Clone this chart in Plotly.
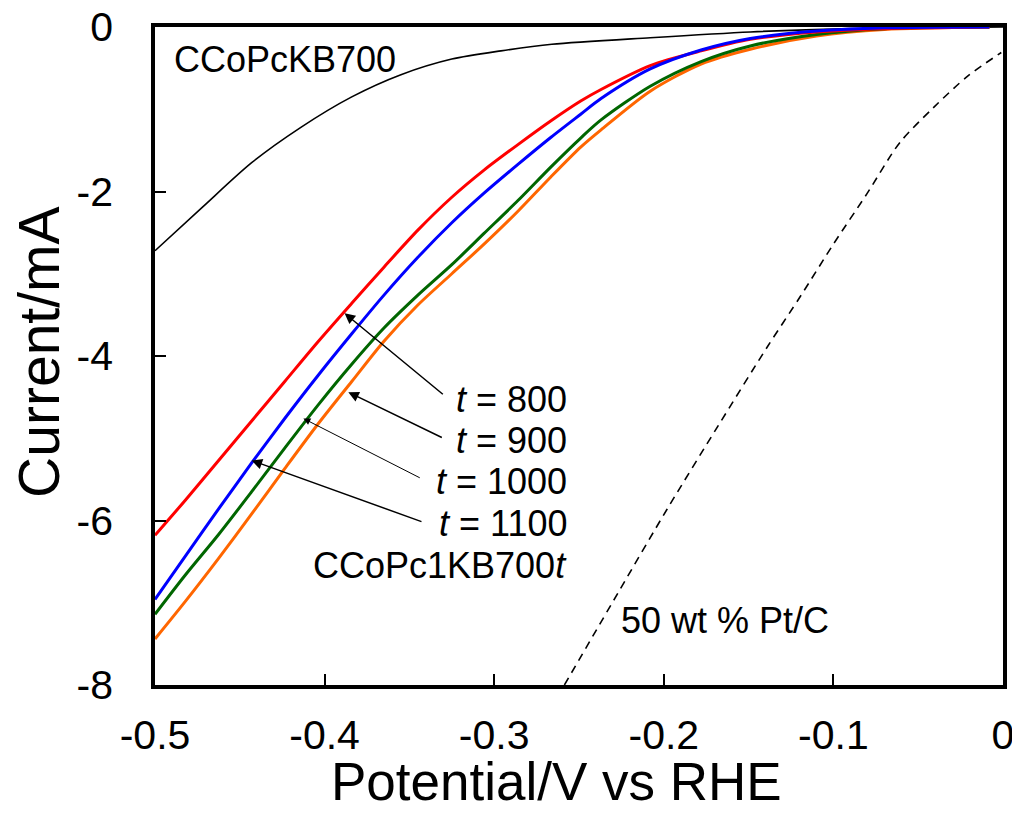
import plotly.graph_objects as go

# LSV curves (potential in V vs RHE, current in mA)
x_kb700 = [-0.500, -0.472, -0.443, -0.414, -0.384, -0.355, -0.325, -0.296, -0.266, -0.208, -0.149, -0.090, -0.040, 0.0]
y_kb700 = [-2.72, -2.19, -1.65, -1.22, -0.85, -0.58, -0.39, -0.29, -0.21, -0.13, -0.06, -0.02, -0.01, 0.0]

x_t = [-0.500, -0.482, -0.4625, -0.443, -0.4235, -0.404, -0.384, -0.365, -0.345, -0.325, -0.306, -0.286,
       -0.2665, -0.249, -0.237, -0.208, -0.178, -0.149, -0.110, -0.070, -0.008]
y_800 = [-6.18, -5.75, -5.27, -4.79, -4.31, -3.83, -3.36, -2.92, -2.47, -2.07, -1.74, -1.43,
         -1.14, -0.90, -0.76, -0.47, -0.29, -0.15, -0.06, -0.02, 0.0]
y_900 = [-6.96, -6.43, -5.86, -5.30, -4.76, -4.24, -3.73, -3.26, -2.80, -2.38, -2.02, -1.67,
         -1.34, -1.06, -0.87, -0.51, -0.28, -0.14, -0.05, -0.01, 0.0]
y_1000 = [-7.14, -6.66, -6.17, -5.65, -5.12, -4.60, -4.10, -3.66, -3.26, -2.89, -2.51, -2.11,
          -1.70, -1.35, -1.13, -0.72, -0.42, -0.23, -0.09, -0.02, 0.0]
y_1100 = [-7.44, -6.98, -6.46, -5.92, -5.37, -4.83, -4.31, -3.82, -3.38, -3.00, -2.64, -2.24,
          -1.82, -1.46, -1.25, -0.78, -0.45, -0.27, -0.11, -0.03, 0.0]

x_ptc = [-0.2586, -0.227, -0.198, -0.168, -0.139, -0.119, -0.100, -0.080, -0.061, -0.041, -0.021, -0.001]
y_ptc = [-8.0, -6.88, -5.86, -4.85, -3.89, -3.26, -2.64, -2.02, -1.41, -0.98, -0.60, -0.31]

x_ticks = [-0.5, -0.4, -0.3, -0.2, -0.1, 0]
x_labels = ["-0.5", "-0.4", "-0.3", "-0.2", "-0.1", "0"]
y_ticks = [0, -2, -4, -6, -8]
y_labels = ["0", "-2", "-4", "-6", "-8"]

font = "Arial, Liberation Sans, sans-serif"
spl = dict(shape="spline", smoothing=0.8)

fig = go.Figure()
fig.add_trace(go.Scatter(x=x_kb700, y=y_kb700, mode="lines", line=dict(color="black", width=1.6, **spl)))
fig.add_trace(go.Scatter(x=x_ptc, y=y_ptc, mode="lines", line=dict(color="black", width=1.6, dash="8px,6px", **spl)))
fig.add_trace(go.Scatter(x=x_t, y=y_1100, mode="lines", line=dict(color="#ff6600", width=3, **spl)))
fig.add_trace(go.Scatter(x=x_t, y=y_1000, mode="lines", line=dict(color="#006600", width=3, **spl)))
fig.add_trace(go.Scatter(x=x_t, y=y_800, mode="lines", line=dict(color="#ff0000", width=3, **spl)))
fig.add_trace(go.Scatter(x=x_t, y=y_900, mode="lines", line=dict(color="#0000ff", width=3, **spl)))

# text labels
labels = [
    ("CCoPcKB700", -0.490, -0.39, "left"),
    ("<i>t</i> = 800", -0.2559, -4.53, "right"),
    ("<i>t</i> = 900", -0.2559, -5.03, "right"),
    ("<i>t</i> = 1000", -0.2559, -5.53, "right"),
    ("<i>t</i> = 1100", -0.2559, -6.04, "right"),
    ("CCoPc1KB700<i>t</i>", -0.2559, -6.55, "right"),
    ("50 wt % Pt/C", -0.2265, -7.21, "left"),
]
for txt, xx, yy, anc in labels:
    fig.add_annotation(x=xx, y=yy, text=txt, showarrow=False, xanchor=anc, yanchor="middle",
                       font=dict(family=font, size=36, color="black"))

# arrows: (head x, head y, tail x, tail y, width)
arrows = [
    (-0.3882, -3.48, -0.3294, -4.48, 1.5),
    (-0.386, -4.44, -0.330, -5.00, 1.5),
    (-0.4125, -4.76, -0.343, -5.49, 1.0),
    (-0.443, -5.27, -0.342, -6.02, 1.5),
]
for hx, hy, tx, ty, w in arrows:
    fig.add_annotation(x=hx, y=hy, ax=tx, ay=ty, axref="x", ayref="y", text="",
                       showarrow=True, arrowhead=2, arrowsize=1.4, arrowwidth=w, arrowcolor="black")

# axis titles
fig.add_annotation(x=0.474, y=-0.195, xref="paper", yref="paper", text="Potential/V vs RHE", showarrow=False,
                   xanchor="center", yanchor="bottom", font=dict(family=font, size=53, color="black"))
fig.add_annotation(x=-0.137, y=0.506, xref="paper", yref="paper", text="Current/mA", showarrow=False,
                   textangle=-90, xanchor="center", yanchor="middle", font=dict(family=font, size=57, color="black"))

fig.update_xaxes(range=[-0.5, 0], tickvals=x_ticks, ticktext=x_labels, ticks="inside", ticklen=11,
                 tickwidth=2, tickcolor="black", showline=True, mirror=True, linewidth=3.5,
                 linecolor="black", showgrid=False, zeroline=False, automargin=False, ticklabelstandoff=11,
                 ticklabeloverflow="allow", tickfont=dict(family=font, size=41, color="black"))
fig.update_yaxes(range=[-8, 0], tickvals=y_ticks, ticktext=y_labels, ticks="inside", ticklen=11,
                 tickwidth=2, tickcolor="black", showline=True, mirror=True, linewidth=3.5,
                 linecolor="black", showgrid=False, zeroline=False, automargin=False, ticklabelstandoff=30,
                 ticklabeloverflow="allow", tickfont=dict(family=font, size=41, color="black"))
fig.update_layout(width=1012, height=815, margin=dict(l=155, r=9, t=27, b=130),
                  plot_bgcolor="white", paper_bgcolor="white", showlegend=False)
fig.write_html("out.html", config={"displayModeBar": False},
               post_script="document.body.style.margin='0';")
